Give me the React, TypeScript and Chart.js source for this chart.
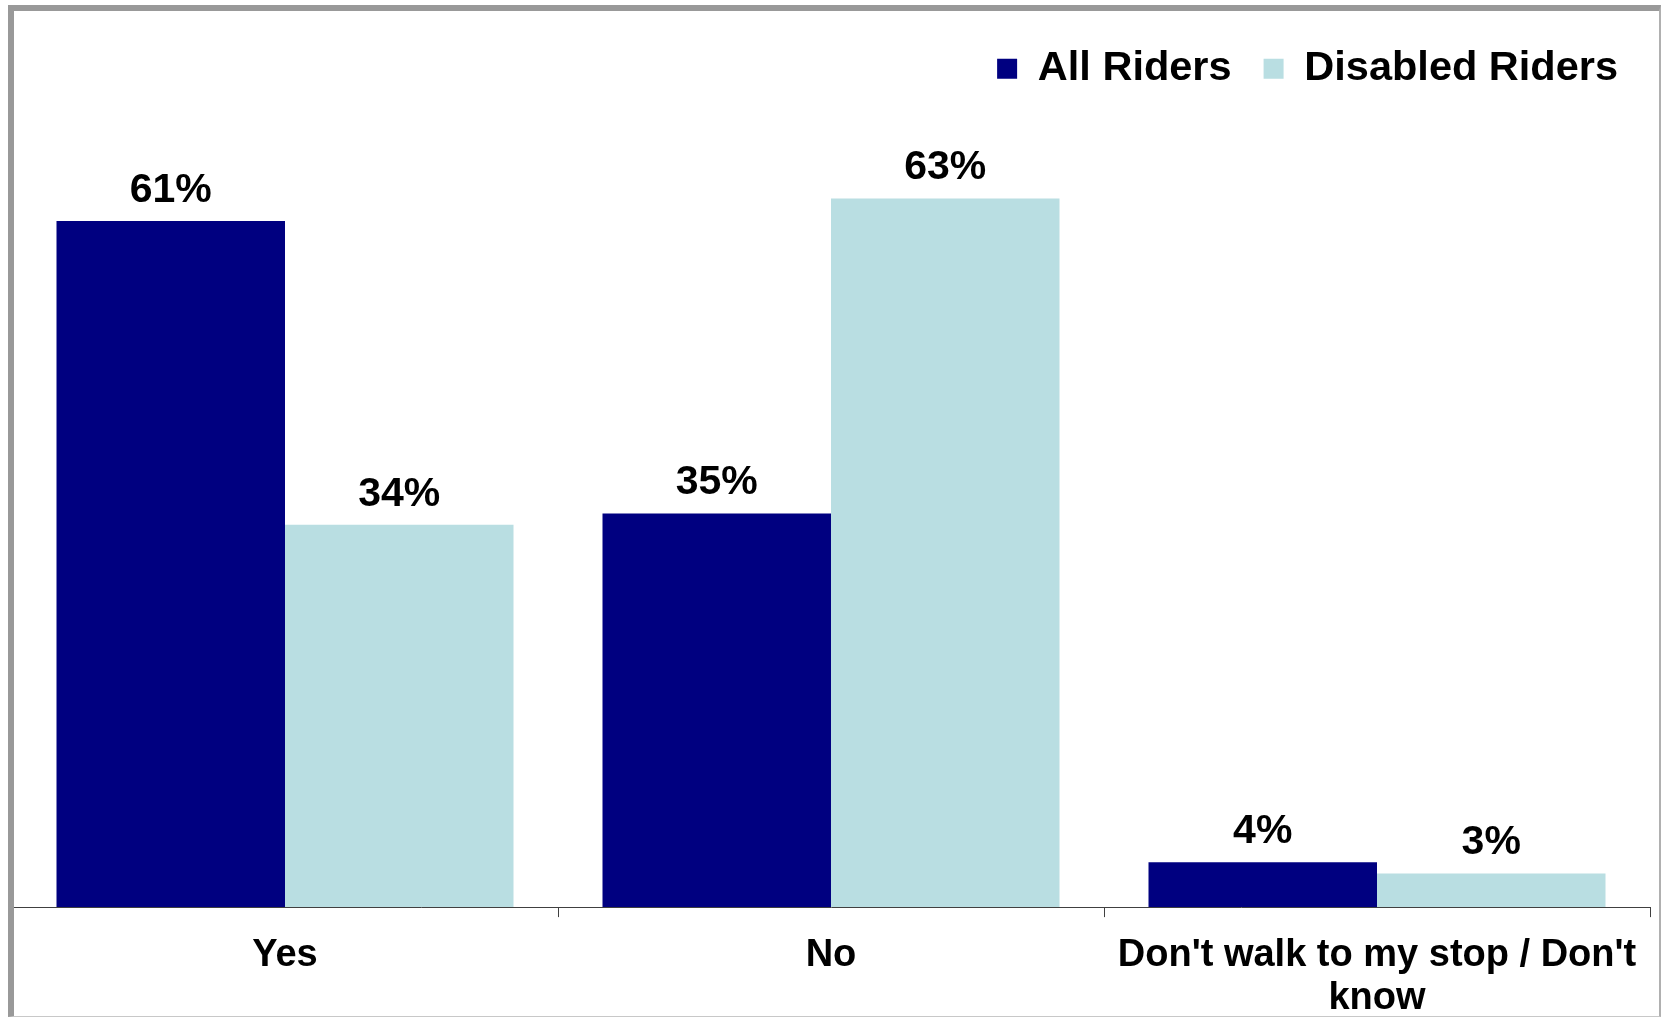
import React, { useEffect, useRef } from "react";
import { Chart, registerables } from "chart.js";

Chart.register(...registerables);

const categories: (string | string[])[] = ["Yes", "No", ["Don't walk to my stop / Don't", "know"]];
const allRiders = [61, 35, 4];
const disabledRiders = [34, 63, 3];
const seriesNames = ["All Riders", "Disabled Riders"];
const seriesColors = ["#000080", "#B9DEE2"];

const FONT = "'Liberation Sans', Arial, Helvetica, sans-serif";

const valueLabels = {
  id: "valueLabels",
  afterDatasetsDraw(chart: any) {
    const ctx = chart.ctx;
    ctx.save();
    ctx.font = `bold 41px ${FONT}`;
    ctx.fillStyle = "#000000";
    ctx.textAlign = "center";
    ctx.textBaseline = "alphabetic";
    chart.data.datasets.forEach((ds: any, di: number) => {
      const meta = chart.getDatasetMeta(di);
      meta.data.forEach((el: any, i: number) => {
        ctx.fillText(`${ds.data[i]}%`, el.x, el.y - 19);
      });
    });
    ctx.restore();
  },
};

export default function App() {
  const ref = useRef<HTMLCanvasElement>(null);
  useEffect(() => {
    if (!ref.current) return;
    const chart = new Chart(ref.current, {
      type: "bar",
      data: {
        labels: categories,
        datasets: [
          { label: seriesNames[0], data: allRiders, backgroundColor: seriesColors[0], borderWidth: 0 },
          { label: seriesNames[1], data: disabledRiders, backgroundColor: seriesColors[1], borderWidth: 0 },
        ],
      },
      options: {
        responsive: false,
        animation: false,
        devicePixelRatio: 1,
        layout: { padding: { left: 0, right: 9, top: 5, bottom: 0 } },
        datasets: { bar: { categoryPercentage: 0.837, barPercentage: 1 } },
        plugins: {
          legend: {
            display: true,
            position: "top",
            align: "end",
            labels: {
              boxWidth: 20,
              boxHeight: 20,
              padding: 32,
              color: "#000000",
              font: { family: FONT, size: 41.5, weight: "bold" },
            },
          },
          tooltip: { enabled: false },
        },
        scales: {
          x: {
            grid: {
              offset: true,
              drawOnChartArea: false,
              drawTicks: true,
              tickLength: 10,
              color: "#404040",
            },
            border: { display: true, color: "#404040", width: 1 },
            ticks: {
              color: "#000000",
              padding: 17,
              maxRotation: 0,
              autoSkip: false,
              font: { family: FONT, size: 38, weight: "bold", lineHeight: 1.13 },
            },
          },
          y: {
            display: false,
            min: 0,
            max: 71.8,
          },
        },
      },
      plugins: [valueLabels],
    });
    return () => chart.destroy();
  }, []);

  return (
    <div
      style={{
        position: "absolute",
        left: 8,
        top: 5,
        width: 1653,
        height: 1012,
        boxSizing: "border-box",
        borderLeft: "6px solid #999999",
        borderTop: "6px solid #999999",
        borderRight: "2px solid #b0b0b0",
        borderBottom: "1px solid #c8c8c8",
        overflow: "hidden",
        background: "#ffffff",
      }}
    >
      <canvas ref={ref} width={1647} height={1026} style={{ display: "block", marginLeft: -2 }} />
    </div>
  );
}
